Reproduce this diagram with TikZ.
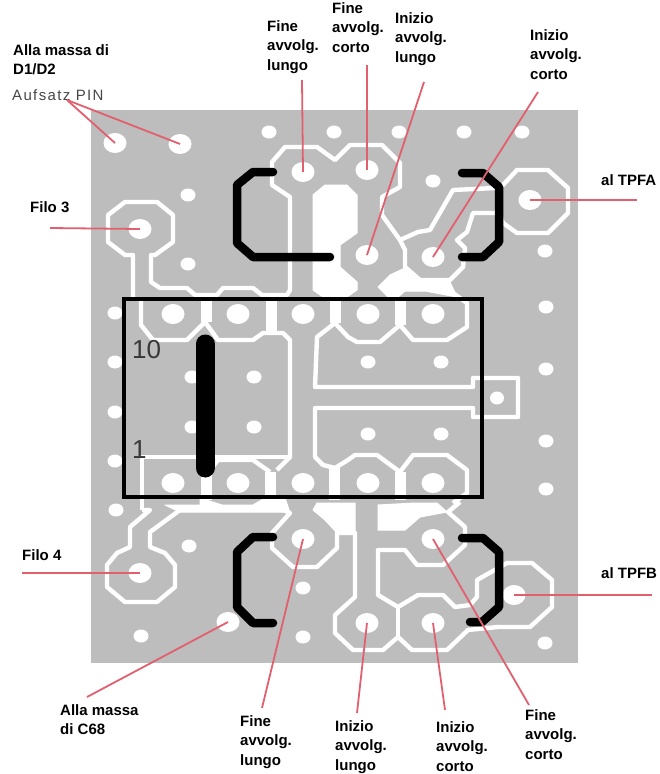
\documentclass[tikz,border=0pt]{standalone}
\usepackage{fontspec}
\setmainfont{Liberation Sans}
\newfontfamily\pinfont[LetterSpace=9]{Liberation Sans}
\usetikzlibrary{shapes.geometric}
\definecolor{boardgray}{HTML}{BDBDBD}
\definecolor{leadred}{HTML}{E2606E}
\tikzset{
  pad/.style={ellipse,fill=white,inner sep=0pt,minimum width=23pt,minimum height=20pt},
  hole/.style={ellipse,fill=white,inner sep=0pt,minimum width=15pt,minimum height=13pt},
  track/.style={draw=white,line width=4.4pt,line join=round},
  gap/.style={fill=white,draw=white,line width=1pt,line join=round},
  coil/.style={line width=8.5pt,line cap=round,line join=round},
  lead/.style={draw=leadred,line width=1.8pt},
  pinno/.style={anchor=west,inner sep=0pt,font=\fontsize{26}{26}\selectfont,text=black!78},
  lab/.style={anchor=north west,inner sep=0pt,align=left,font=\fontsize{15}{19.5}\selectfont\bfseries}
}
\begin{document}
\begin{tikzpicture}[x=1pt,y=-1pt]
  \useasboundingbox (0,0) rectangle (659,774);
  \fill[boardgray] (91,110) rectangle (578,663);
  % white copper gaps
  \path[gap] (313,195) -- (325,185) -- (347,185) -- (357,195) -- (357,233) -- (340,245) -- (340,267) -- (357,282) -- (357,290) -- (347,297) -- (323,297) -- (313,290) -- cycle;
  \path[gap] (378,287) -- (390,275) -- (405,268) -- (420,282) -- (450,282) -- (457,297) -- (425,291) -- (405,291) -- (398,297) -- (388,297) -- cycle;
  \path[gap] (378,505) -- (378,530) -- (405,530) -- (420,517) -- (447,512) -- (437,503) -- (415,503) -- cycle;
  \path[gap] (317,503) -- (355,503) -- (355,533) -- (337,533) -- (325,520) -- (313,510) -- cycle;
  \path[gap] (200,498) -- (222,505) -- (253,505) -- (265,498) -- (285,498) -- (290,513) -- (283,512) -- (180,512) -- (165,505) -- (200,505) -- cycle;
  % upper tracks
  \draw[track] (133,297) -- (133,255) -- (125,255) -- (108,242) -- (108,215) -- (125,202) -- (157,202) -- (173,215) -- (173,242) -- (155,255) -- (151,255) -- (151,282) -- (160,288) -- (187,288) -- (195,295) -- (217,295) -- (223,288) -- (253,288) -- (262,295) -- (287,295) -- (290,290) -- (290,197) -- (272,185) -- (272,162) -- (285,147) -- (317,147) -- (335,160) -- (350,145) -- (382,145) -- (400,163) -- (400,187) -- (382,197) -- (382,215) -- (400,240) -- (418,232) -- (430,230) -- (453,190) -- (495,188) -- (503,185) -- (517,170) -- (548,170) -- (568,188) -- (568,213) -- (548,233) -- (517,233) -- (503,223) -- (499,213) -- (473,213) -- (467,232) -- (457,240) -- (465,248) -- (463,267) -- (450,280) -- (420,280) -- (405,267) -- (405,250) -- (400,240);
  % tracks round the relay
  \draw[track] (141,297) -- (141,325) -- (153,340) -- (187,340) -- (205,322) -- (218,340) -- (253,340) -- (263,333) -- (283,333) -- (290,340) -- (290,457) -- (277,470);
  \draw[track] (335,323) -- (317,337) -- (315,387) -- (473,387) -- (473,378) -- (518,378) -- (518,417) -- (473,417) -- (473,408) -- (315,408) -- (315,457) -- (323,465) -- (335,468);
  \draw[track] (335,323) -- (348,337) -- (357,342) -- (380,342) -- (400,325) -- (413,340) -- (447,340) -- (467,327) -- (467,303) -- (453,293);
  \draw[track] (335,468) -- (348,460) -- (355,455) -- (377,455) -- (400,472) -- (413,455) -- (447,455) -- (467,470) -- (467,493) -- (453,503);
  \draw[track] (142,510) -- (142,457) -- (283,457) -- (290,457);
  \draw[track] (206,475) -- (218,460) -- (253,460) -- (270,472);
  \draw[track,line width=11pt] (206,300) -- (206,322) (271,300) -- (271,333) (335,300) -- (335,323) (400,300) -- (400,325);
  \draw[track,line width=11pt] (206,475) -- (206,500) (270,472) -- (270,500) (334,468) -- (334,500) (400,472) -- (400,500);
  % lower tracks
  \draw[track] (142,510) -- (150,510) -- (130,527) -- (130,547) -- (117,553) -- (107,565) -- (107,587) -- (125,602) -- (157,602) -- (175,587) -- (175,565) -- (165,553) -- (150,547) -- (150,532) -- (180,510) -- (283,510) -- (290,513) -- (272,533) -- (272,548) -- (293,567) -- (317,567) -- (337,548) -- (337,533) -- (355,533) -- (355,597) -- (335,615) -- (335,633) -- (353,650) -- (383,650) -- (398,637) -- (412,650) -- (447,650) -- (468,630) -- (498,627);
  \draw[track] (498,627) -- (530,627) -- (552,607) -- (552,580) -- (532,563) -- (507,563) -- (477,580) -- (477,597) -- (470,605) -- (455,607) -- (443,595) -- (418,595) -- (398,607) -- (378,595) -- (378,550) -- (405,550) -- (417,565) -- (443,565) -- (465,545) -- (465,527) -- (448,512) -- (460,502);
  \draw[track] (398,607) -- (398,637);
  % pads and holes
  \node[pad] (padfa) at (303,172) {};
  \node[pad] (padca) at (367,170) {};
  \node[pad] (padla) at (367,255) {};
  \node[pad] (padia) at (433,257) {};
  \node[pad] (padtpfa) at (530,200) {};
  \node[pad] (padfilotre) at (140,229) {};
  \node[pad] (padfb) at (303,539) {};
  \node[pad] (padcb) at (433,539) {};
  \node[pad] (padtpfb) at (514,595) {};
  \node[pad] (padlb) at (367,623) {};
  \node[pad] (padib) at (433,623) {};
  \node[pad] (padfiloq) at (140,573) {};
  \node[pad] (padmta) at (115,143) {};
  \node[pad] (padmtb) at (180,144) {};
  \node[pad] (padcsl) at (228,622) {};
  \foreach \px in {173,238,303,368,433}
    \node[pad] (u\px) at (\px,314) {};
  \foreach \px in {173,238,303,368,433}
    \node[pad] (d\px) at (\px,483) {};
  \foreach \hx/\hy [count=\i] in {269/132,334/132,399/132,464/132,522/132,188/195,188/264,433/181,545/251,546/307,546/369,546/441,546/489,115/313,115/362,115/412,115/461,116/510,254/377,254/427,192/377,192/427,368/362,441/362,368/434,441/434,189/546,303/588,141/636,303/637,545/643}
    \node[hole] (h\i) at (\hx,\hy) {};
  \node[hole,minimum width=14pt,minimum height=13pt] (htest) at (497,398) {};
  % relay and coils
  \draw[line width=3.5pt] (124,299) rectangle (482,497);
  \draw[line width=19pt,line cap=round] (205,344) -- (205,468);
  \draw[coil] (273,172) -- (253,172) -- (237,185) -- (237,243) -- (253,257) -- (330,257);
  \draw[coil] (462,173) -- (483,173) -- (499,187) -- (499,242) -- (483,257) -- (462,257);
  \draw[coil] (273,537) -- (253,537) -- (237,552) -- (237,607) -- (253,623) -- (273,623);
  \draw[coil] (462,538) -- (483,538) -- (499,552) -- (499,607) -- (482,622) -- (470,622);
  \node[pinno] (pinten) at (132,350) {10};
  \node[pinno] (pinone) at (132,450) {1};
  % labels
  \node[lab] (lmassa) at (13,44) {Alla massa di\\D1/D2};
  \node[anchor=west,inner sep=0pt,font=\fontsize{15}{15}\selectfont\pinfont,text=black!72] (lpin) at (12,95) {Aufsatz PIN};
  \node[lab] (lfinea) at (267,20) {Fine\\avvolg.\\lungo};
  \node[lab] (lfinec) at (332,2) {Fine\\avvolg.\\corto};
  \node[lab] (linia) at (395,12) {Inizio\\avvolg.\\lungo};
  \node[lab] (linic) at (530,29) {Inizio\\avvolg.\\corto};
  \node[lab] (ltpfa) at (601,174) {al TPFA};
  \node[lab] (lfilot) at (30,201) {Filo 3};
  \node[lab] (lfiloq) at (22,549) {Filo 4};
  \node[lab] (ltpfb) at (601,567) {al TPFB};
  \node[lab] (lcsl) at (60,704) {Alla massa\\di C68};
  \node[lab] (lfineb) at (240,715) {Fine\\avvolg.\\lungo};
  \node[lab] (linib) at (335,720) {Inizio\\avvolg.\\lungo};
  \node[lab] (licb) at (436,721) {Inizio\\avvolg.\\corto};
  \node[lab] (lfcb) at (525,709) {Fine\\avvolg.\\corto};
  % free ends of the leads
  \coordinate (epin) at (67,100);
  \coordinate (efa) at (302,80);
  \coordinate (eca) at (367,65);
  \coordinate (ela) at (424,82);
  \coordinate (eia) at (538,92);
  \coordinate (etpfa) at (637,200);
  \coordinate (eft) at (50,228);
  \coordinate (efq) at (22,573);
  \coordinate (etpfb) at (652,595);
  \coordinate (ecsl) at (87,697);
  \coordinate (efb) at (262,708);
  \coordinate (elb) at (357,713);
  \coordinate (eib) at (445,710);
  \coordinate (ecb) at (529,705);
  \path[lead]
    (epin) edge (padmta.center)
    (epin) edge (padmtb.center)
    (efa) edge (padfa.center)
    (eca) edge (padca.center)
    (ela) edge (padla.center)
    (eia) edge (padia.center)
    (etpfa) edge (padtpfa.center)
    (eft) edge (padfilotre.center)
    (efq) edge (padfiloq.center)
    (etpfb) edge (padtpfb.center)
    (ecsl) edge (padcsl.center)
    (efb) edge (padfb.center)
    (elb) edge (padlb.center)
    (eib) edge (padib.center)
    (ecb) edge (padcb.center);
\end{tikzpicture}
\end{document}
